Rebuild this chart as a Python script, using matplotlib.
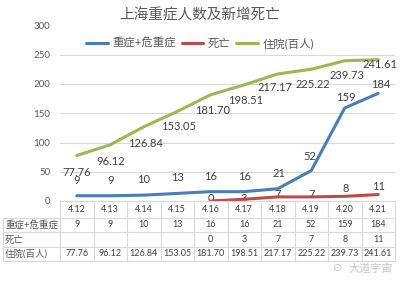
import matplotlib
matplotlib.use("Agg")
import matplotlib.pyplot as plt
from matplotlib.lines import Line2D
from matplotlib.transforms import blended_transform_factory

plt.rcParams['font.family'] = ['Lato', 'Noto Sans CJK SC', 'DejaVu Sans']

# ---- data ----
dates = ["4.12", "4.13", "4.14", "4.15", "4.16", "4.17", "4.18", "4.19", "4.20", "4.21"]
severe = [9, 9, 10, 13, 16, 16, 21, 52, 159, 184]
deaths = [None, None, None, None, 0, 3, 7, 7, 8, 11]
hospital = [77.76, 96.12, 126.84, 153.05, 181.70, 198.51, 217.17, 225.22, 239.73, 241.61]
series_names = ["重症+危重症", "死亡", "住院(百人)"]
title = "上海重症人数及新增死亡"

BLUE = "#4A7EBB"
RED = "#BE4B48"
GREEN = "#98B954"
TXT = "#404040"
GRID = "#D9D9D9"

W, H = 400, 284
fig = plt.figure(figsize=(W / 100, H / 100), dpi=100)
fig.patch.set_facecolor("white")


def fx(px):
    return px / W


def fy(py):
    return 1 - py / H


# plot area in pixel bounds
left, right, top, bottom = 60, 395, 25.5, 201
ax = fig.add_axes([fx(left), fy(bottom), fx(right - left), (bottom - top) / H])
x = list(range(len(dates)))
ax.set_xlim(-0.5, len(dates) - 0.5)
ax.set_ylim(0, 300)
ax.set_yticks(range(0, 301, 50))
ax.set_xticks([])
for s in ax.spines.values():
    s.set_visible(False)
ax.tick_params(axis="y", length=0, pad=7, labelsize=7, labelcolor="#595959")
ax.grid(axis="y", color=GRID, lw=0.8)
ax.set_axisbelow(True)

lw = 2.2
ax.plot(x, severe, color=BLUE, lw=lw, solid_capstyle="round", label=series_names[0], zorder=3)
dx = [i for i, v in zip(x, deaths) if v is not None]
dv = [v for v in deaths if v is not None]
ax.plot(dx, dv, color=RED, lw=lw, solid_capstyle="round", label=series_names[1], zorder=3)
ax.plot(x, hospital, color=GREEN, lw=lw, solid_capstyle="round", label=series_names[2], zorder=3)

# data labels (offsets in pixels)
blue_off = [(0, 15), (0, 15), (0, 16), (0, 16), (0, 15), (0, 15), (1, 15), (-1, 14), (1, 10), (3, 9)]
green_off = [(0, -17), (0, -17), (2, -17), (1, -15), (2, -16), (1, -16), (-3, -14), (2, -15), (2, -15), (2, -5)]
red_off = [(0, 2), (0, 2), (0, 2), (0, 2), (0, 2), (0, 1), (0, 2), (0, 2), (1, 8), (0, 8)]

for i, v in enumerate(severe):
    ax.annotate(f"{v}", (i, v), xytext=blue_off[i], textcoords="offset pixels",
                ha="center", va="center", fontsize=8, color=TXT, zorder=4)
for i, v in enumerate(hospital):
    ax.annotate(f"{v:.2f}", (i, v), xytext=green_off[i], textcoords="offset pixels",
                ha="center", va="center", fontsize=8, color=TXT, zorder=4)
for i, v in enumerate(deaths):
    if v is None:
        continue
    ax.annotate(f"{v}", (i, v), xytext=red_off[i], textcoords="offset pixels",
                ha="center", va="center", fontsize=8, color=TXT, zorder=2)

# title and legend
fig.text(0.5, fy(15), title, ha="center", va="center", fontsize=10.5, color="#595959")
leg = ax.legend(loc="center", bbox_to_anchor=(fx(200), fy(43)), bbox_transform=fig.transFigure,
                ncol=3, frameon=False, fontsize=8.2, handlelength=1.9, handletextpad=0.4,
                columnspacing=0.5, borderpad=0)
for t in leg.get_texts():
    t.set_color("#595959")

# ---- data table below the plot ----
rows_y = [201, 217.5, 232, 246.5, 261]
lab_left = 3
line_kw = dict(color=GRID, lw=0.8, transform=fig.transFigure)
# horizontal rules
fig.add_artist(Line2D([fx(left), fx(right)], [fy(rows_y[0])] * 2, **line_kw))
for yy in rows_y[1:]:
    fig.add_artist(Line2D([fx(lab_left), fx(right)], [fy(yy)] * 2, **line_kw))
# vertical rules
col_w = (right - left) / len(dates)
for k in range(len(dates) + 1):
    xx = left + k * col_w
    fig.add_artist(Line2D([fx(xx)] * 2, [fy(rows_y[0]), fy(rows_y[-1])], **line_kw))
fig.add_artist(Line2D([fx(lab_left)] * 2, [fy(rows_y[1]), fy(rows_y[-1])], **line_kw))

tr = blended_transform_factory(ax.transData, fig.transFigure)
centers = [(rows_y[r] + rows_y[r + 1]) / 2 for r in range(4)]
for i, d in enumerate(dates):
    fig.text(i, fy(centers[0]), d, transform=tr, ha="center", va="center", fontsize=6.5, color=TXT)
    fig.text(i, fy(centers[1]), f"{severe[i]}", transform=tr, ha="center", va="center", fontsize=6.5, color=TXT)
    if deaths[i] is not None:
        fig.text(i, fy(centers[2]), f"{deaths[i]}", transform=tr, ha="center", va="center", fontsize=6.5, color=TXT)
    fig.text(i, fy(centers[3]), f"{hospital[i]:.2f}", transform=tr, ha="center", va="center", fontsize=6.5, color=TXT)
for r, name in enumerate(series_names):
    fig.text(fx(5), fy(centers[r + 1]), name, ha="left", va="center", fontsize=6.8, color="#595959")

# account watermark
fig.text(fx(348), fy(268), "大道宇宙", ha="left", va="center", fontsize=8, color="#C8C8C8")
fig.text(fx(338), fy(268), "⊙", ha="center", va="center", fontsize=8, color="#C8C8C8",
         family="DejaVu Sans")

fig.savefig("out.png", dpi=100)
